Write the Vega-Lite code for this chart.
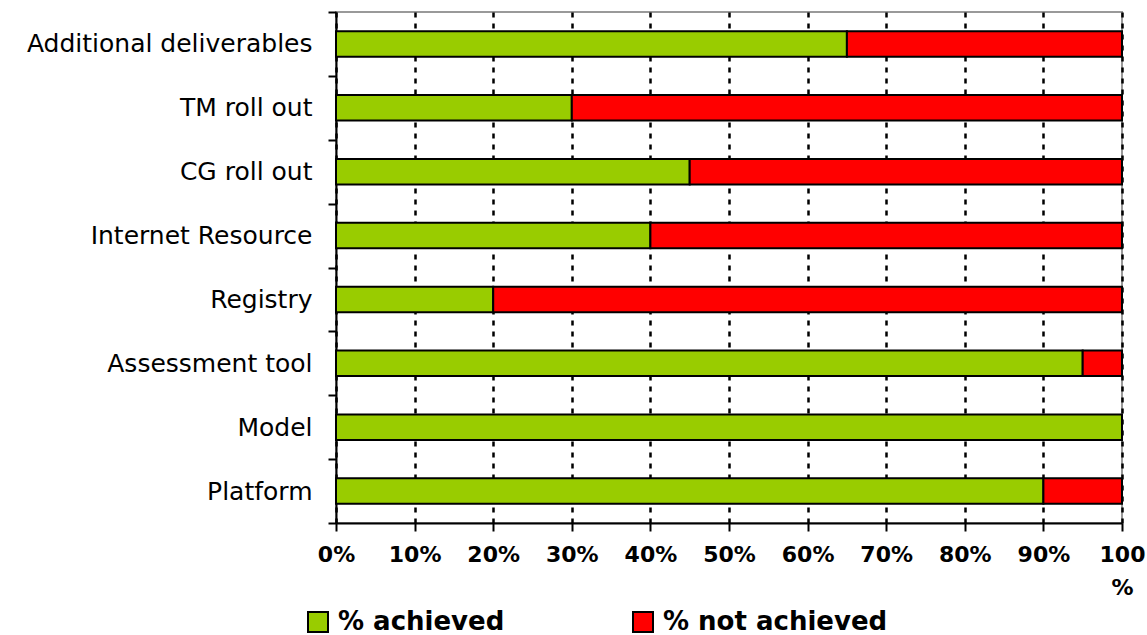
{
  "$schema": "https://vega.github.io/schema/vega-lite/v6.json",
  "autosize": {"type": "none"},
  "width": 786,
  "height": 511,
  "padding": {"left": 336, "top": 12, "right": 25, "bottom": 112},
  "background": "white",
  "config": {
    "font": "DejaVu Sans",
    "view": {"stroke": "#999999", "strokeWidth": 2}
  },
  "data": {
    "values": [
      {"item": "Additional deliverables", "status": "% achieved", "value": 65, "ord": 1},
      {"item": "Additional deliverables", "status": "% not achieved", "value": 35, "ord": 2},
      {"item": "TM roll out", "status": "% achieved", "value": 30, "ord": 1},
      {"item": "TM roll out", "status": "% not achieved", "value": 70, "ord": 2},
      {"item": "CG roll out", "status": "% achieved", "value": 45, "ord": 1},
      {"item": "CG roll out", "status": "% not achieved", "value": 55, "ord": 2},
      {"item": "Internet Resource", "status": "% achieved", "value": 40, "ord": 1},
      {"item": "Internet Resource", "status": "% not achieved", "value": 60, "ord": 2},
      {"item": "Registry", "status": "% achieved", "value": 20, "ord": 1},
      {"item": "Registry", "status": "% not achieved", "value": 80, "ord": 2},
      {"item": "Assessment tool", "status": "% achieved", "value": 95, "ord": 1},
      {"item": "Assessment tool", "status": "% not achieved", "value": 5, "ord": 2},
      {"item": "Model", "status": "% achieved", "value": 100, "ord": 1},
      {"item": "Model", "status": "% not achieved", "value": 0, "ord": 2},
      {"item": "Platform", "status": "% achieved", "value": 90, "ord": 1},
      {"item": "Platform", "status": "% not achieved", "value": 10, "ord": 2}
    ]
  },
  "mark": {"type": "bar", "stroke": "black", "strokeWidth": 2, "height": {"band": 0.4}},
  "encoding": {
    "y": {
      "field": "item",
      "type": "nominal",
      "sort": ["Additional deliverables", "TM roll out", "CG roll out", "Internet Resource", "Registry", "Assessment tool", "Model", "Platform"],
      "scale": {"paddingInner": 0, "paddingOuter": 0},
      "axis": {
        "title": null,
        "tickBand": "extent",
        "tickSize": 8,
        "tickColor": "black",
        "tickWidth": 2,
        "domainColor": "black",
        "domainWidth": 2,
        "labelFont": "DejaVu Sans",
        "labelFontSize": 25,
        "labelColor": "black",
        "labelPadding": 16,
        "labelLimit": 400,
        "grid": false
      }
    },
    "x": {
      "field": "value",
      "type": "quantitative",
      "stack": "normalize",
      "scale": {"domain": [0, 1]},
      "axis": {
        "title": null,
        "values": [0, 0.1, 0.2, 0.3, 0.4, 0.5, 0.6, 0.7, 0.8, 0.9, 1],
        "labelExpr": "datum.value >= 0.999 ? ['100', '%'] : format(datum.value, '.0%')",
        "labelFont": "DejaVu Sans",
        "labelFontSize": 22,
        "labelFontWeight": "bold",
        "labelColor": "black",
        "labelPadding": 13,
        "labelLineHeight": 33,
        "labelFlush": false,
        "tickSize": 8,
        "tickColor": "black",
        "tickWidth": 2,
        "domainColor": "black",
        "domainWidth": 2,
        "grid": true,
        "gridColor": "black",
        "gridWidth": 2.5,
        "gridDash": [5, 6]
      }
    },
    "order": {"field": "ord", "type": "quantitative"},
    "color": {
      "field": "status",
      "type": "nominal",
      "scale": {"domain": ["% achieved", "% not achieved"], "range": ["#99CC00", "#FF0000"]},
      "legend": {
        "title": null,
        "orient": "none",
        "direction": "horizontal",
        "legendX": -31,
        "legendY": 597,
        "padding": 0,
        "symbolType": "square",
        "symbolSize": 400,
        "symbolStrokeColor": "black",
        "symbolStrokeWidth": 2,
        "symbolOpacity": 1,
        "labelFont": "DejaVu Sans",
        "labelFontSize": 26,
        "labelFontWeight": "bold",
        "labelColor": "black",
        "labelOffset": 7,
        "labelLimit": 400,
        "columnPadding": 124
      }
    }
  }
}
